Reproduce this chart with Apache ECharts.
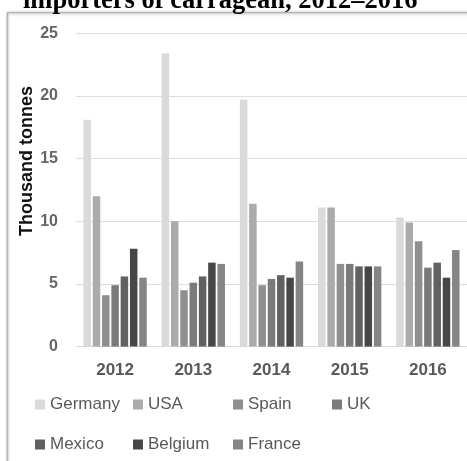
<!DOCTYPE html>
<html>
<head>
<meta charset="utf-8">
<script src="https://cdn.jsdelivr.net/npm/echarts@6/dist/echarts.min.js"></script>
<style>
  html, body { margin: 0; padding: 0; background: #ffffff; }
  #chart { width: 467px; height: 461px; }
</style>
</head>
<body>
<div id="chart"></div>
<script>
// Carrageenan imports by country, thousand tonnes
const years = ['2012', '2013', '2014', '2015', '2016'];
const germany = [18.1, 23.4, 19.7, 11.1, 10.3];
const usa     = [12.0, 10.0, 11.4, 11.1, 9.9];
const spain   = [4.1, 4.5, 4.9, 6.6, 8.4];
const uk      = [4.9, 5.1, 5.4, 6.6, 6.3];
const mexico  = [5.6, 5.6, 5.7, 6.4, 6.7];
const belgium = [7.8, 6.7, 5.5, 6.4, 5.5];
const france  = [5.5, 6.6, 6.8, 6.4, 7.7];
const yTicks  = [0, 5, 10, 15, 20, 25];

const countries = [
  { name: 'Germany', data: germany, color: '#dadada' },
  { name: 'USA',     data: usa,     color: '#ababab' },
  { name: 'Spain',   data: spain,   color: '#8f8f8f' },
  { name: 'UK',      data: uk,      color: '#7a7a7a' },
  { name: 'Mexico',  data: mexico,  color: '#616161' },
  { name: 'Belgium', data: belgium, color: '#474747' },
  { name: 'France',  data: france,  color: '#858585' }
];

const chart = echarts.init(document.getElementById('chart'), null, { renderer: 'canvas' });

const legendBase = {
  orient: 'vertical',
  top: 391,
  itemWidth: 10,
  itemHeight: 10,
  itemGap: 23,
  icon: 'rect',
  selectedMode: false,
  textStyle: { fontFamily: 'Liberation Sans', fontSize: 17, color: '#595959' }
};

const legendColumns = [
  { left: 30,  names: ['Germany', 'Mexico'] },
  { left: 128, names: ['USA', 'Belgium'] },
  { left: 228, names: ['Spain', 'France'] },
  { left: 327, names: ['UK'] }
];

chart.setOption({
  animation: false,
  backgroundColor: '#ffffff',
  grid: { left: 76, top: 33.3, width: 396, height: 313.3, containLabel: false },
  legend: legendColumns.map(c => Object.assign({}, legendBase, { left: c.left, data: c.names })),
  xAxis: {
    type: 'category',
    data: years,
    axisLine: { show: true, lineStyle: { color: '#d9d9d9', width: 1 } },
    axisTick: { show: false },
    axisLabel: {
      margin: 15,
      fontFamily: 'Liberation Sans',
      fontWeight: 'bold',
      fontSize: 17,
      color: '#595959'
    }
  },
  yAxis: {
    type: 'value',
    min: yTicks[0],
    max: yTicks[yTicks.length - 1],
    interval: 5,
    axisLine: { show: false },
    axisTick: { show: false },
    splitLine: { lineStyle: { color: '#dedede', width: 1 } },
    axisLabel: {
      margin: 18,
      fontFamily: 'Liberation Sans',
      fontWeight: 'bold',
      fontSize: 16,
      color: '#666666'
    }
  },
  series: countries.map((c, i) => ({
    name: c.name,
    type: 'bar',
    data: c.data,
    barWidth: 7.5,
    barGap: '24%',
    itemStyle: { color: c.color },
    z: 2
  })),
  graphic: [
    {
      type: 'rect',
      z: -1,
      silent: true,
      shape: { x: 7.5, y: 12.5, width: 480, height: 470 },
      style: {
        fill: '#ffffff',
        stroke: '#b5b5b5',
        lineWidth: 1.5,
        shadowBlur: 3,
        shadowColor: 'rgba(0,0,0,0.25)',
        shadowOffsetY: 1
      }
    },
    {
      type: 'text',
      left: 23,
      top: -12,
      silent: true,
      style: {
        text: 'importers of carragean, 2012\u20132016',
        fontFamily: 'Liberation Serif',
        fontWeight: 'bold',
        fontSize: 26.5,
        fill: '#000000'
      }
    },
    {
      type: 'text',
      x: 27,
      y: 161,
      rotation: Math.PI / 2,
      silent: true,
      style: {
        text: 'Thousand tonnes',
        fontFamily: 'Liberation Sans',
        fontWeight: 'bold',
        fontSize: 18,
        fill: '#111111',
        align: 'center',
        verticalAlign: 'middle'
      }
    }
  ]
});
</script>
</body>
</html>
